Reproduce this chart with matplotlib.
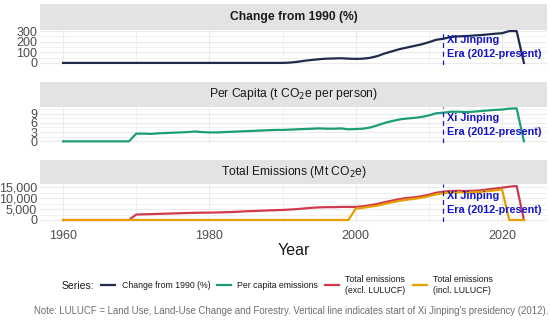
import numpy as np
import matplotlib
matplotlib.use("Agg")
import matplotlib.pyplot as plt
from matplotlib.ticker import FixedLocator, FuncFormatter
from matplotlib.lines import Line2D
from matplotlib import font_manager

plt.rcParams['font.family'] = ['Liberation Sans', 'DejaVu Sans']

# Data (zeros = missing values in the source)
years = list(range(1960, 2024))

change_1990 = [0] * 30 + [
    0, 3, 10, 20, 28, 35, 40, 42, 44, 40,          # 1990-1999
    38, 40, 48, 65, 90, 110, 130, 145, 160, 175,   # 2000-2009
    195, 218, 228, 245, 250, 252, 258, 262, 268, 275,  # 2010-2019
    280, 300, 300, 0,                              # 2020-2023
]

per_capita = [0] * 10 + [
    2.5, 2.5, 2.4, 2.6, 2.7, 2.8, 2.9, 3.0, 3.2, 3.0,   # 1970-1979
    2.9, 2.9, 3.0, 3.1, 3.2, 3.3, 3.4, 3.5, 3.6, 3.7,   # 1980-1989
    3.7, 3.8, 3.9, 4.0, 4.1, 4.2, 4.1, 4.1, 4.2, 3.9,   # 1990-1999
    4.0, 4.1, 4.5, 5.2, 6.0, 6.6, 7.1, 7.4, 7.6, 7.9,   # 2000-2009
    8.4, 9.1, 9.3, 9.6, 9.6, 9.5, 9.6, 9.8, 10.0, 10.2, # 2010-2019
    10.3, 10.6, 10.7, 0,                               # 2020-2023
]

total_excl = [0] * 10 + [
    2500, 2600, 2700, 2800, 2900, 3000, 3100, 3200, 3300, 3350,   # 1970-1979
    3400, 3450, 3550, 3650, 3800, 4000, 4100, 4250, 4400, 4500,   # 1980-1989
    4600, 4800, 5000, 5300, 5600, 5800, 5900, 5900, 6000, 6000,   # 1990-1999
    6000, 6300, 6800, 7400, 8200, 8900, 9600, 10100, 10400, 10900,  # 2000-2009
    11600, 12500, 13000, 13300, 13400, 13300, 13400, 13600, 14000, 14400,  # 2010-2019
    14800, 15300, 15600, 0,                                       # 2020-2023
]

total_incl = [0] * 40 + [
    5200, 5600, 6100, 6600, 7400, 8100, 8800, 9300, 9700, 10200,  # 2000-2009
    10900, 11800, 12300, 12600, 12700, 12600, 12700, 12900, 13200, 13600,  # 2010-2019
    14000, 0, 0, 0,                                               # 2020-2023
]

panel_titles = ["Change from 1990 (%)", "Per Capita (t CO$_2$e per person)",
                "Total Emissions (Mt CO$_2$e)"]
y_breaks = [[0, 100, 200, 300], [0, 3, 6, 9], [0, 5000, 10000, 15000]]
x_breaks = [1960, 1980, 2000, 2020]
xi_year = 2012

colors = {
    "change": "#1f2b4a",
    "capita": "#1b9e77",
    "excl": "#d03a4c",
    "incl": "#e69f00",
}
grid_col = "#ebebeb"
text_grey = "#4d4d4d"
xi_col = "#1414c8"

# narrow font for the legend if there is one
names = {f.name for f in font_manager.fontManager.ttflist}
narrow = "Liberation Sans Narrow" if "Liberation Sans Narrow" in names else None
leg_size = 7.2 if narrow else 6.3

W, H = 550, 322
fig = plt.figure(figsize=(W / 100, H / 100), dpi=100)


def box(x0, y0, x1, y1):
    # pixel box (top-left origin) -> figure coords
    return [x0 / W, 1 - y1 / H, (x1 - x0) / W, (y1 - y0) / H]


# (strip top, strip bottom / panel top, panel bottom)
panels = [(4, 29.5, 64.5), (82, 106.7, 143), (160, 184.3, 221.7)]
x_left, x_right = 40, 547

series = [
    [(change_1990, colors["change"])],
    [(per_capita, colors["capita"])],
    [(total_excl, colors["excl"]), (total_incl, colors["incl"])],
]

for i, (st, pt, pb) in enumerate(panels):
    sax = fig.add_axes(box(x_left, st, x_right, pt))
    sax.set_facecolor("#e3e3e3")
    sax.set_xticks([])
    sax.set_yticks([])
    for s in sax.spines.values():
        s.set_visible(False)
    sax.text(0.5, 0.5, panel_titles[i], ha="center", va="center", fontsize=8.7,
             fontweight="bold" if i == 0 else "normal", color="#1a1a1a",
             transform=sax.transAxes)

    ax = fig.add_axes(box(x_left, pt, x_right, pb))
    for vals, c in series[i]:
        ax.plot(years, vals, color=c, lw=1.6, solid_joinstyle="round")
    ax.margins(x=0.05, y=0.05)

    yb = y_breaks[i]
    step = yb[1] - yb[0]
    ax.yaxis.set_major_locator(FixedLocator(yb))
    ax.yaxis.set_minor_locator(FixedLocator([b + step / 2 for b in yb[:-1]] + [yb[-1] + step / 2]))
    ax.xaxis.set_major_locator(FixedLocator(x_breaks))
    ax.xaxis.set_minor_locator(FixedLocator([1970, 1990, 2010]))
    ax.grid(True, which="major", color=grid_col, lw=0.8)
    ax.grid(True, which="minor", color=grid_col, lw=0.5)
    ax.set_axisbelow(True)
    ax.tick_params(which="both", length=0, labelsize=9, colors=text_grey, pad=2)
    if i == 2:
        ax.yaxis.set_major_formatter(FuncFormatter(lambda v, p: f"{int(v):,}"))
        ax.tick_params(axis="x", pad=6)
        ax.set_xlabel("Year", fontsize=11.5, color="#1a1a1a", labelpad=1)
    else:
        ax.set_xticklabels([])
    for s in ax.spines.values():
        s.set_visible(False)

    ax.axvline(xi_year, color=xi_col, lw=0.9, ls=(0, (4, 3)))
    ax.text(xi_year + 0.5, 0.5, "Xi Jinping\nEra (2012-present)", transform=ax.get_xaxis_transform(),
            ha="left", va="center", fontsize=7.8, fontweight="bold", color=xi_col,
            linespacing=1.55)

# legend
handles = [
    Line2D([], [], color=colors["change"], lw=1.6),
    Line2D([], [], color=colors["capita"], lw=1.6),
    Line2D([], [], color=colors["excl"], lw=1.6),
    Line2D([], [], color=colors["incl"], lw=1.6),
]
labels = ["Change from 1990 (%)", "Per capita emissions",
          "Total emissions\n(excl. LULUCF)", "Total emissions\n(incl. LULUCF)"]
leg_font = {"size": leg_size}
if narrow:
    leg_font["family"] = [narrow, "Liberation Sans"]
fig.legend(handles, labels, loc="center", bbox_to_anchor=(297 / W, 1 - 285 / H), ncol=4,
           frameon=False, prop=leg_font, handlelength=1.6, handletextpad=0.7,
           columnspacing=0.8, labelcolor="#1a1a1a", borderpad=0.2)
fig.text(94 / W, 1 - 286 / H, "Series:", ha="right", va="center", fontsize=7.5, color="#1a1a1a",
         family=[narrow, "Liberation Sans"] if narrow else None)

fig.text(548 / W, 1 - 311 / H,
         "Note: LULUCF = Land Use, Land-Use Change and Forestry. Vertical line indicates start of Xi Jinping's presidency (2012).",
         ha="right", va="center", fontsize=6.9, color="#6e6e6e")

fig.savefig("out.png", dpi=100, facecolor="white")
